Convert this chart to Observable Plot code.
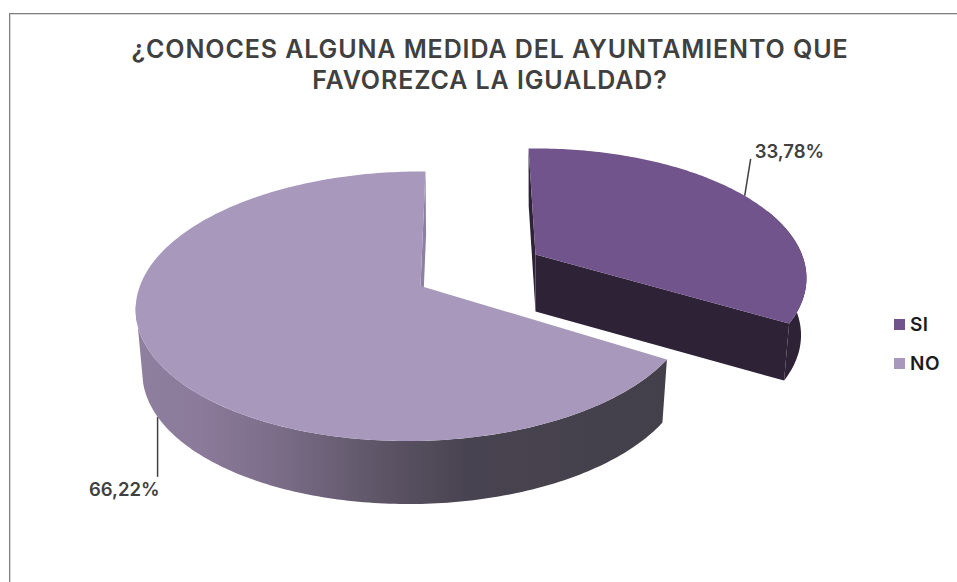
<!DOCTYPE html>
<html lang="es">
<head>
<meta charset="utf-8">
<script src="https://cdn.jsdelivr.net/npm/d3@7"></script>
<script src="https://cdn.jsdelivr.net/npm/@observablehq/plot@0.6"></script>
<style>
html,body{margin:0;padding:0;background:#fff;overflow:hidden}
#chart{position:relative;width:957px;height:582px;overflow:hidden;font-family:Inter,sans-serif;color:#404040}
#frame{position:absolute;left:9px;top:13px;width:960px;height:600px;border:1px solid #7f7f7f;box-shadow:inset 0 0 0 1px #d9d9d9;box-sizing:border-box}
#title{position:absolute;left:0;top:33.5px;width:980px;margin:0;text-align:center;font-size:25px;line-height:31.5px;font-weight:600;letter-spacing:0.9px;color:#404040}
.lg{position:absolute;left:894px;font-size:19px;line-height:20px;font-weight:600;letter-spacing:0.5px;color:#1c1c1c;white-space:nowrap}
.lg i{position:absolute;left:0;top:4px;width:11px;height:11px}
.lg span{position:absolute;left:16px;top:0}
svg{position:absolute;left:0;top:0;overflow:visible;background:transparent}
</style>
</head>
<body>
<div id="chart">
  <div id="frame"></div>
  <h1 id="title">¿CONOCES ALGUNA MEDIDA DEL AYUNTAMIENTO QUE<br>FAVOREZCA LA IGUALDAD?</h1>
</div>
<script>
const categories = ["SI", "NO"];
const values = [33.78, 66.22];
const labels = ["33,78%", "66,22%"];

const topColors = ["#71548b", "#a798bc"];
const sideColors = ["#2d2236", "url(#noSide)"];
const wallColors = ["#2d2236", "#8e80a3"];
const legendTops = [315, 354];

// perspective of each exploded slice (top face, then extruded bottom)
const views = [
  {cx: 535, cy: 254, A: 265, B: 8.2, C: -3.3, D: 124.9, m: 0, k: 0.178, dy: 57, sx: 0.98, bx: 0},
  {cx: 420, cy: 285.5, A: 275, B: -5.75, C: 0, D: 131.7, m: 0.02, k: 0.1503, dy: 63, sx: 0.979, bx: 0.7}
];
const leaders = [
  {at: 0.50, dx: 6, dy: -37, bottom: false, tx: 4, ty: -1, anchor: "start"},
  {at: 0.505, dx: 0, dy: 60, bottom: true, tx: 2, ty: 19.5, anchor: "end"}
];
const degrees = Math.PI / 180;

const pie = d3.pie().sort(null).value(d => d)(values);

function project(i, a, bottom) {
  const p = views[i], u = Math.sin(a), v = -Math.cos(a);
  const w = 1 + p.m * u - p.k * v;
  const px = (p.A * u + p.B * v) / w, py = (p.C * u + p.D * v) / w;
  return bottom
    ? {x: p.cx + p.bx + p.sx * px, y: p.cy + p.dy + py}
    : {x: p.cx + px, y: p.cy + py};
}
const apex = (i, bottom) => bottom
  ? {x: views[i].cx + views[i].bx, y: views[i].cy + views[i].dy}
  : {x: views[i].cx, y: views[i].cy};
function arc(i, from, to, bottom) {
  const n = Math.max(2, Math.ceil(Math.abs(to - from) * 60));
  return d3.range(n + 1).map(j => project(i, from + (to - from) * j / n, bottom));
}

// polygons, back to front
const polys = [];
function add(points, fill) { polys.push({points, fill}); }
[1, 0].forEach(i => {
  const s = pie[i];
  const start = s.startAngle, end = s.endAngle;
  // wall seen at the closing radius of the slice (near 12 o'clock)
  const backAngle = i === 0 ? start : end;
  add([project(i, backAngle, false), project(i, backAngle, true), apex(i, true), apex(i, false)], wallColors[i]);
  // front wall of the exploded slice
  if (i === 0) add([apex(i, false), project(i, end, false), project(i, end, true), apex(i, true)], wallColors[i]);
  // outer rim, ending on the silhouette of the drum
  const rimTopFrom = i === 0 ? 70 * degrees : start;
  const rimBottomFrom = i === 0 ? 75 * degrees : start;
  const rimTopTo = i === 0 ? end : 262 * degrees;
  const rimBottomTo = i === 0 ? end : 256 * degrees;
  add([...arc(i, rimTopFrom, rimTopTo, false), ...arc(i, rimBottomTo, rimBottomFrom, true)], sideColors[i]);
  // top face
  add([apex(i, false), ...arc(i, start, end, false)], topColors[i]);
});
const polyPoints = polys.flatMap((p, id) => p.points.map(q => ({...q, id, fill: p.fill})));

const leaderRows = leaders.map((l, i) => {
  const a = pie[i].startAngle + (pie[i].endAngle - pie[i].startAngle) * l.at;
  const q = project(i, a, l.bottom);
  return {x1: q.x, y1: q.y, x2: q.x + l.dx, y2: q.y + l.dy, tx: q.x + l.dx + l.tx, ty: q.y + l.dy + l.ty, anchor: l.anchor, label: labels[i]};
});

const defs = () => {
  const d = d3.create("svg:defs");
  const g = d.append("linearGradient").attr("id", "noSide")
    .attr("gradientUnits", "userSpaceOnUse")
    .attr("x1", views[1].cx - 285).attr("x2", views[1].cx + 250).attr("y1", 0).attr("y2", 0);
  [[0, "#8f80a0"], [0.12, "#8b7a99"], [0.25, "#7d6f8b"], [0.45, "#5f5668"], [0.62, "#484350"], [1, "#43404a"]]
    .forEach(([o, c]) => g.append("stop").attr("offset", o).attr("stop-color", c));
  return d.node();
};

const plot = Plot.plot({
  width: 957, height: 582,
  margin: 0,
  x: {domain: [0, 957], range: [0, 957], axis: null},
  y: {domain: [0, 582], range: [0, 582], axis: null},
  style: {background: "transparent"},
  marks: [
    defs,
    Plot.link(leaderRows, {x1: "x1", y1: "y1", x2: "x2", y2: "y2", stroke: "#404040", strokeWidth: 1.5}),
    ...polys.map((p, id) => Plot.line(polyPoints.filter(d => d.id === id), {
      x: "x", y: "y", fill: p.fill, stroke: "none", curve: "linear-closed"
    })),
    ...leaderRows.map(r => Plot.text([r], {
      x: "tx", y: "ty", text: "label", textAnchor: r.anchor, lineAnchor: "bottom",
      fontFamily: "Inter", fontSize: 18.5, fontWeight: 600, fill: "#404040"
    }))
  ]
});
const chart = document.getElementById("chart");
chart.appendChild(plot);
categories.forEach((c, i) => {
  const el = document.createElement("div");
  el.className = "lg";
  el.style.top = legendTops[i] + "px";
  el.innerHTML = `<i style="background:${topColors[i]}"></i><span>${c}</span>`;
  chart.appendChild(el);
});
</script>
</body>
</html>
